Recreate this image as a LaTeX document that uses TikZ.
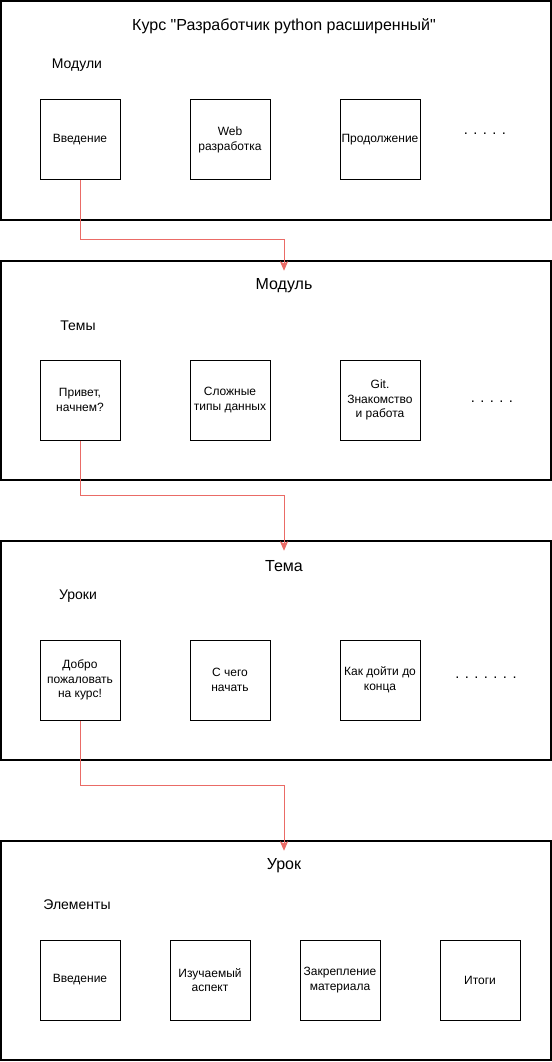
\documentclass[tikz,border=0pt]{standalone}
\usepackage{fontspec}
\setmainfont{Liberation Sans}
\newfontfamily\plainfont{Liberation Sans}
\usetikzlibrary{arrows.meta}

\tikzset{
    panel/.style={draw, line width=0.9pt, minimum width=550*0.75pt, minimum height=219*0.75pt, inner sep=0pt},
    item/.style={draw, line width=0.75pt, minimum width=80*0.75pt, minimum height=80*0.75pt, inner sep=0pt, align=center, font=\fontsize{9}{11}\selectfont},
    heading/.style={minimum height=30*0.75pt, inner sep=0pt, font=\plainfont\fontsize{12}{14}\selectfont},
    caption/.style={inner sep=0pt, font=\fontsize{10.5}{12}\selectfont},
    more/.style={inner sep=0pt, font=\fontsize{11}{13}\selectfont},
    link/.style={draw={rgb,255:red,234;green,107;blue,102}, line width=0.75pt, -{Stealth[length=7pt, width=6pt, inset=1.5pt]}}
}

\begin{document}
\begin{tikzpicture}[x=0.75pt, y=-0.75pt]
        \useasboundingbox (0,0) rectangle (552,1062);

        % course
        \node[panel] (course) at (276,110.5) {};
        \node[heading] (tCourse) at (284,26) {Курс "Разработчик python расширенный"};
        \node[caption] (lModules) at (77,65) {Модули};
        \node[item] (m1) at (80,140) {Введение};
        \node[item] (m2) at (230,140) {Web\\разработка};
        \node[item] (m3) at (380,140) {Продолжение};
        \node[more] (mDots) at (485,134) {. . . . .};

        % module
        \node[panel] (module) at (276,370.5) {};
        \node[heading] (tModule) at (284,286) {Модуль};
        \node[caption] (lTopics) at (78,326) {Темы};
        \node[item] (t1) at (80,400) {Привет,\\начнем?};
        \node[item] (t2) at (230,400) {Сложные\\типы данных};
        \node[item] (t3) at (380,400) {Git.\\Знакомство\\и работа};
        \node[more] (tDots) at (492,402) {. . . . .};

        % topic
        \node[panel] (topic) at (276,650.5) {};
        \node[heading] (tTopic) at (284,566) {Тема};
        \node[caption] (lLessons) at (78,596) {Уроки};
        \node[item] (l1) at (80,680) {Добро\\пожаловать\\на курс!};
        \node[item] (l2) at (230,680) {С чего\\начать};
        \node[item] (l3) at (380,680) {Как дойти до\\конца};
        \node[more] (lDots) at (486,678) {. . . . . . .};

        % lesson
        \node[panel] (lesson) at (276,950.5) {};
        \node[heading] (tLesson) at (284,866) {Урок};
        \node[caption] (lParts) at (77,905) {Элементы};
        \node[item] (e1) at (80,980) {Введение};
        \node[item] (e2) at (210,980) {Изучаемый\\аспект};
        \node[item] (e3) at (340,980) {Закрепление\\материала};
        \node[item] (e4) at (480,980) {Итоги};

        % links
        \coordinate (k1) at (80,240);
        \coordinate (k2) at (80,495);
        \coordinate (k3) at (80,785);
        \draw[link] (m1.south) -- (k1) -| (tModule.north);
        \draw[link] (t1.south) -- (k2) -| (tTopic.north);
        \draw[link] (l1.south) -- (k3) -| (tLesson.north);
    \end{tikzpicture}
\end{document}
